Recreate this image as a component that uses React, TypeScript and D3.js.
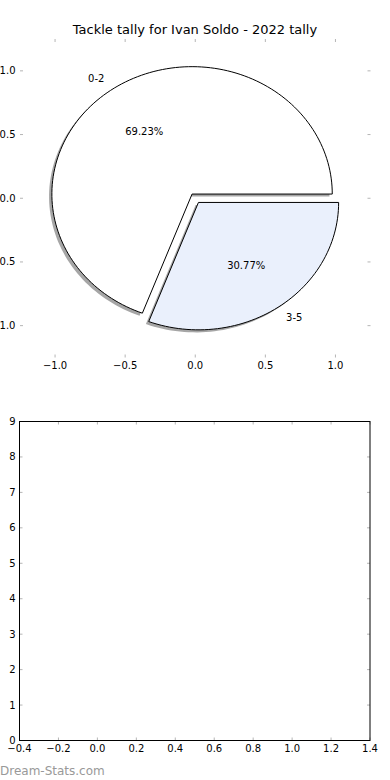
import React from "react";
import * as d3 from "d3";

// ---- data ----
const title = "Tackle tally for Ivan Soldo - 2022 tally";
const categories = ["0-2", "3-5"];
const values = [9, 4];
const explode = [0.04, 0.04];
const sliceColors = ["#ffffff", "#eaf0fc"];
const pieXTicks = [-1.0, -0.5, 0.0, 0.5, 1.0];
const pieYTicks = [-1.0, -0.5, 0.0, 0.5, 1.0];
const barXTicks = [-0.4, -0.2, 0.0, 0.2, 0.4, 0.6, 0.8, 1.0, 1.2, 1.4];
const barYTicks = [0, 1, 2, 3, 4, 5, 6, 7, 8, 9];
const watermark = "Dream-Stats.com";

const FONT = "'DejaVu Sans', sans-serif";
const TICK = "#b5b5b5";

const fmt = (v: number) => {
  const s = v.toFixed(1);
  return v < 0 ? "\u2212" + s.slice(1) : s;
};

export default function App() {
  const W = 390, H = 780;

  // top (pie) axes
  const xP = d3.scaleLinear().domain([-1.25, 1.25]).range([20, 370.5]);
  const yP = d3.scaleLinear().domain([-1.25, 1.25]).range([357.5, 39]);

  const total = d3.sum(values);
  const pieGen = d3.pie<number>().sort(null).value((d) => d)
    .startAngle(0).endAngle(2 * Math.PI);
  const arcs = pieGen(values);

  const line = d3.line<[number, number]>().x((d) => xP(d[0])).y((d) => yP(d[1]));

  const wedgePath = (a0: number, a1: number, cx: number, cy: number) => {
    const n = Math.max(8, Math.ceil(((a1 - a0) / (2 * Math.PI)) * 200));
    const pts: [number, number][] = [[cx, cy]];
    d3.range(n + 1).forEach((i) => {
      const t = a0 + ((a1 - a0) * i) / n;
      pts.push([cx + Math.cos(t), cy + Math.sin(t)]);
    });
    pts.push([cx, cy]);
    return line(pts) + "Z";
  };

  const wedges = arcs.map((a, i) => {
    const mid = (a.startAngle + a.endAngle) / 2;
    const cx = explode[i] * Math.cos(mid);
    const cy = explode[i] * Math.sin(mid);
    return { a0: a.startAngle, a1: a.endAngle, mid, cx, cy, i };
  });

  // bottom axes
  const xB = d3.scaleLinear().domain([-0.4, 1.4]).range([19.5, 370]);
  const yB = d3.scaleLinear().domain([0, 9]).range([740.5, 421.5]);

  return (
    <svg width={W} height={H} style={{ position: "absolute", left: 0, top: 0, background: "#fff" }}
      fontFamily={FONT}>
      <rect x={0} y={0} width={W} height={H} fill="#fff" />
      {/* title */}
      <text x={195} y={33.5} fontSize={13} textAnchor="middle" fill="#000">{title}</text>

      {/* pie ticks */}
      {pieXTicks.map((t) => (
        <g key={"px" + t}>
          <line x1={xP(t)} x2={xP(t)} y1={39} y2={42} stroke={TICK} />
          <line x1={xP(t)} x2={xP(t)} y1={357.5} y2={354.5} stroke={TICK} />
          <text x={xP(t)} y={369} fontSize={10} textAnchor="middle">{fmt(t)}</text>
        </g>
      ))}
      {pieYTicks.map((t) => (
        <g key={"py" + t}>
          <line x1={20} x2={23} y1={yP(t)} y2={yP(t)} stroke={TICK} />
          <line x1={370.5} x2={367.5} y1={yP(t)} y2={yP(t)} stroke={TICK} />
          <text x={15.5} y={yP(t)} dy="0.35em" fontSize={10} textAnchor="end">{fmt(t)}</text>
        </g>
      ))}

      {/* shadows */}
      {wedges.map((w) => (
        <path key={"s" + w.i} d={wedgePath(w.a0, w.a1, w.cx - 0.02, w.cy - 0.02)}
          fill="#4d4d4d" fillOpacity={0.5} stroke="none" />
      ))}
      {/* wedges */}
      {wedges.map((w) => (
        <path key={"w" + w.i} d={wedgePath(w.a0, w.a1, w.cx, w.cy)}
          fill={sliceColors[w.i]} stroke="#000" strokeWidth={1} strokeLinejoin="round" />
      ))}
      {/* labels */}
      {wedges.map((w) => {
        const lx = w.cx + 1.1 * Math.cos(w.mid);
        const ly = w.cy + 1.1 * Math.sin(w.mid);
        const px = w.cx + 0.6 * Math.cos(w.mid);
        const py = w.cy + 0.6 * Math.sin(w.mid);
        return (
          <g key={"l" + w.i}>
            <text x={xP(lx)} y={yP(ly)} dy="0.35em" fontSize={10}
              textAnchor={lx < 0 ? "end" : "start"}>{categories[w.i]}</text>
            <text x={xP(px)} y={yP(py)} dy="0.35em" fontSize={10} textAnchor="middle">
              {((values[w.i] / total) * 100).toFixed(2) + "%"}
            </text>
          </g>
        );
      })}

      {/* bottom axes */}
      {barXTicks.map((t) => (
        <g key={"bx" + t}>
          <line x1={xB(t)} x2={xB(t)} y1={yB(9)} y2={yB(9) + 3} stroke={TICK} />
          <line x1={xB(t)} x2={xB(t)} y1={yB(0)} y2={yB(0) - 3} stroke={TICK} />
          <text x={xB(t)} y={751.5} fontSize={10} textAnchor="middle">{fmt(t)}</text>
        </g>
      ))}
      {barYTicks.map((t) => (
        <g key={"by" + t}>
          <line x1={xB(-0.4)} x2={xB(-0.4) + 3} y1={yB(t)} y2={yB(t)} stroke={TICK} />
          <line x1={xB(1.4)} x2={xB(1.4) - 3} y1={yB(t)} y2={yB(t)} stroke={TICK} />
          <text x={15.5} y={yB(t)} dy="0.35em" fontSize={10} textAnchor="end">{t}</text>
        </g>
      ))}
      <rect x={xB(-0.4)} y={yB(9)} width={xB(1.4) - xB(-0.4)} height={yB(0) - yB(9)}
        fill="none" stroke="#000" strokeWidth={1} />

      <text x={0} y={775} fontSize={12} fill="#999">{watermark}</text>
    </svg>
  );
}
